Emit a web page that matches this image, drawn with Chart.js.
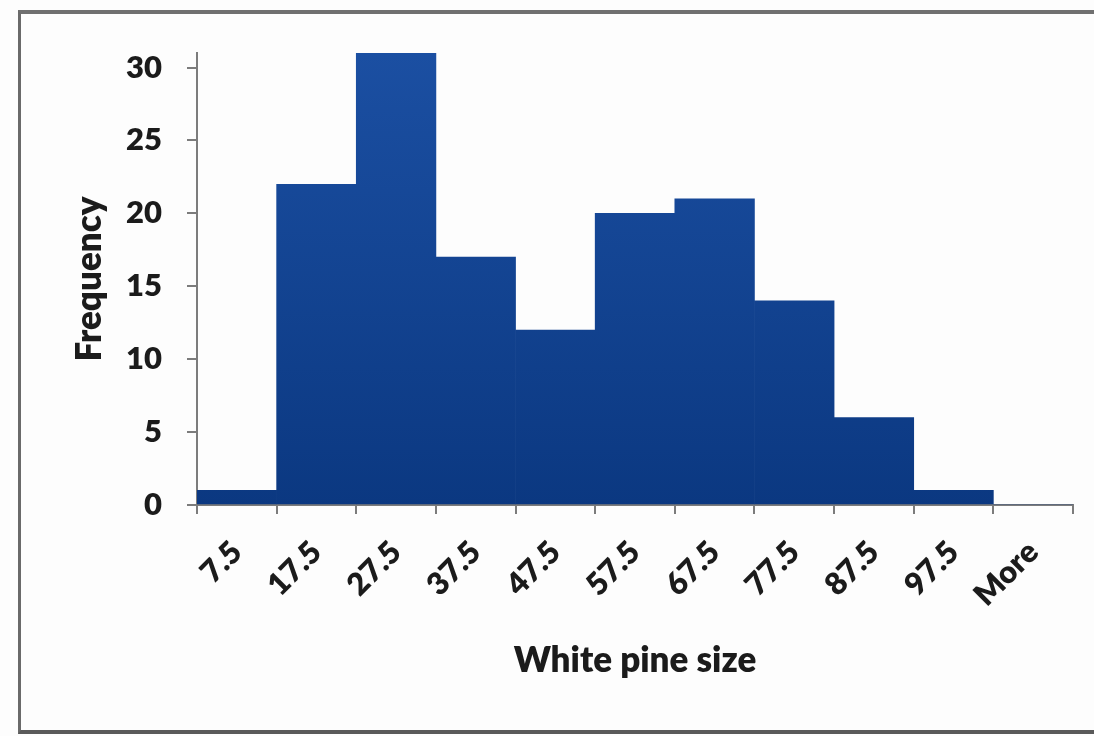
<!DOCTYPE html>
<html lang="en">
<head>
  <meta charset="UTF-8" />
  <title>White pine size - Frequency</title>
  <script src="https://cdn.jsdelivr.net/npm/chart.js"></script>
  <style>
    html, body { margin: 0; padding: 0; background: #fdfdfd; }
    #wrap { position: relative; width: 1094px; height: 736px; overflow: hidden; }
    #frame {
      position: absolute; left: 18px; top: 10px; right: -6px; bottom: 2px;
      border-top: 4px solid #707070; border-left: 3px solid #6a6a6a; border-bottom: 4px solid #5a5a5a;
    }
    canvas { position: absolute; left: 0; top: 0; }
  </style>
</head>
<body>
  <div id="wrap">
    <div id="frame"></div>
    <canvas id="chart" width="1094" height="736"></canvas>
  </div>

  <script>
    // histogram bins (upper bound labels) and counts
    const bins = ['7.5', '17.5', '27.5', '37.5', '47.5', '57.5', '67.5', '77.5', '87.5', '97.5', 'More'];
    const frequency = [1, 22, 31, 17, 12, 20, 21, 14, 6, 1, 0];
    const yMax = 31;
    const yStep = 5;

    const ink = '#1b1b1b';
    const axisGray = '#7c7c7c';
    const font = (size, lh) => ({ family: 'Lato', weight: '800', size: size, lineHeight: lh || 1.2 });

    // vertical blue gradient like the excel fill
    function barFill(context) {
      const area = context.chart.chartArea;
      if (!area) return '#134593';
      const g = context.chart.ctx.createLinearGradient(0, area.top, 0, area.bottom);
      g.addColorStop(0, '#1b4fa2');
      g.addColorStop(1, '#0b3881');
      return g;
    }

    const ctx = document.getElementById('chart').getContext('2d');
    const chart = new Chart(ctx, {
      type: 'bar',
      data: {
        labels: bins,
        datasets: [{
          label: 'Frequency',
          data: frequency,
          backgroundColor: barFill,
          borderWidth: 0,
          barPercentage: 1,
          categoryPercentage: 1
        }]
      },
      options: {
        responsive: false,
        animation: false,
        layout: { padding: { left: 48, right: 21, top: 53, bottom: 54 } },
        plugins: {
          legend: { display: false },
          tooltip: { enabled: false }
        },
        scales: {
          x: {
            afterFit: (scale) => { scale.height = 177; },
            ticks: {
              autoSkip: false,
              minRotation: 45,
              maxRotation: 45,
              color: ink,
              font: font(31, 1),
              padding: 22
            },
            grid: { drawOnChartArea: false, offset: true, tickLength: 9, color: axisGray, lineWidth: 2 },
            border: { color: axisGray, width: 2 },
            title: {
              display: true,
              text: 'White pine size',
              color: ink,
              font: font(35),
              padding: { top: 25, bottom: 0 }
            }
          },
          y: {
            afterFit: (scale) => { scale.width = 149; },
            min: 0,
            max: yMax,
            ticks: {
              stepSize: yStep,
              includeBounds: false,
              color: ink,
              font: font(31),
              padding: 25
            },
            grid: { drawOnChartArea: false, tickLength: 10, color: axisGray, lineWidth: 2 },
            border: { color: axisGray, width: 2 },
            title: {
              display: true,
              text: 'Frequency',
              color: ink,
              font: font(35),
              padding: { top: 21, bottom: 0 }
            }
          }
        }
      }
    });
  </script>
</body>
</html>
